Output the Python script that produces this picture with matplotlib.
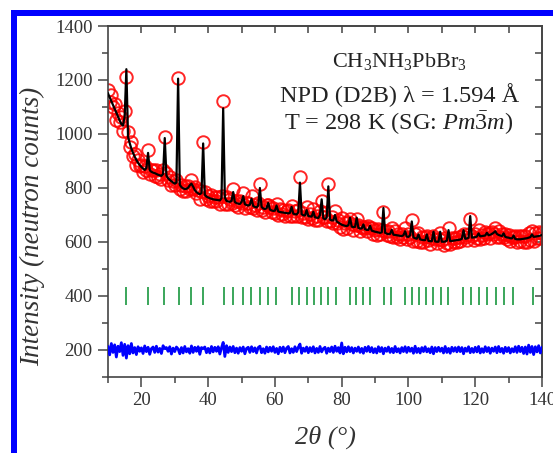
import numpy as np
import matplotlib.pyplot as plt
from matplotlib.patches import Rectangle

plt.rcParams['font.family'] = 'Liberation Serif'
plt.rcParams['mathtext.fontset'] = 'custom'
plt.rcParams['mathtext.rm'] = 'Liberation Serif'
plt.rcParams['mathtext.it'] = 'Liberation Serif:italic'

# scan: 2theta from 10 to 140 deg, step 0.5
two_theta = np.arange(10.0, 140.25, 0.5)

# calculated profile (neutron counts), one row per 5 deg
y_calc = np.array([
    1150, 1136, 1122, 1108, 1093, 1079, 1064, 1050, 1037, 1031,
    1065, 1240, 990, 966, 946, 930, 916, 904, 893, 885,
    878, 872, 867, 874, 930, 866, 860, 857, 855, 852,
    849, 847, 845, 852, 985, 846, 836, 830, 825, 820,
    816, 820, 1205, 812, 803, 799, 796, 797, 801, 810,
    816, 805, 792, 785, 780, 777, 781, 965, 775, 768,
    765, 762, 760, 758, 757, 756, 755, 754, 762, 1095,
    765, 752, 750, 749, 752, 785, 748, 744, 742, 741,
    748, 770, 740, 737, 735, 738, 760, 733, 730, 728,
    735, 800, 730, 724, 722, 725, 745, 720, 717, 715,
    716, 735, 713, 711, 710, 709, 708, 707, 706, 708,
    730, 705, 703, 702, 710, 820, 703, 699, 698, 718,
    696, 695, 694, 712, 692, 690, 689, 700, 758, 688,
    684, 690, 806, 683, 680, 680, 700, 676, 672, 668,
    664, 662, 660, 659, 662, 690, 657, 655, 656, 690,
    652, 650, 650, 665, 647, 645, 645, 660, 642, 640,
    638, 637, 635, 634, 636, 726, 634, 631, 629, 630,
    645, 627, 626, 625, 624, 623, 622, 625, 640, 620,
    619, 625, 676, 617, 614, 612, 628, 610, 608, 607,
    607, 628, 604, 603, 603, 638, 602, 601, 601, 638,
    601, 601, 602, 605, 644, 603, 604, 605, 606, 607,
    608, 609, 612, 644, 612, 613, 616, 696, 616, 617,
    618, 620, 632, 621, 622, 623, 624, 634, 625, 627,
    630, 634, 640, 630, 626, 624, 622, 632, 619, 617,
    616, 614, 613, 624, 611, 610, 610, 610, 611, 612,
    613, 614, 616, 618, 628, 619, 620, 621, 622, 624,
    626,
])

# observed - calculated
residual = np.array([
    12, -18, 24, -9, 19, -26, 14, -6, 27, -20,
    21, -30, 16, -14, 24, -11, 9, -17, 12, -5,
    8, -13, 15, -6, 10, -16, 5, 11, -9, 14,
    -8, 6, -13, 16, 5, 9, -5, 12, -15, 7,
    -6, 11, 4, -14, 9, -11, 13, -7, 5, -12,
    15, -9, 10, -5, 12, -16, 9, 5, 11, -10,
    6, -11, 13, -7, 10, -5, 12, -15, 8, 28,
    -24, 16, -9, 11, -6, 13, -10, 7, -12, 9,
    -5, 11, -14, 6, 10, -9, 12, -6, 8, -11,
    9, 14, -10, 5, -12, 11, -7, 10, -5, 12,
    -9, 6, -14, 10, -6, 11, -10, 7, 13, -11,
    5, -9, 12, -6, 10, 22, -12, 7, -5, 11,
    -10, 9, -6, 12, -11, 6, -9, 13, -7, 5,
    10, -12, 7, -6, 11, -9, 14, -5, 9, -11,
    26, -14, 10, -7, 12, -6, 9, -11, 7, -5,
    11, -9, 6, -12, 10, -5, 13, -7, 9, -10,
    5, -11, 12, -6, 9, -14, 7, -5, 11, -9,
    6, -10, 13, -7, 5, -11, 9, -6, 12, -9,
    10, -5, 7, -12, 14, -9, 6, -11, 9, -6,
    12, -7, 5, -10, 11, -14, 9, -6, 10, -5,
    7, -11, 13, -9, 6, -12, 10, -5, 9, -7,
    11, -6, 9, -14, 7, -5, 12, -10, 6, -9,
    10, -7, 13, -11, 5, -9, 12, -6, 9, -12,
    7, -5, 11, -10, 13, -7, 6, -12, 10, -6,
    9, -11, 5, -7, 12, -9, 14, -6, 10, -13,
    11, -15, 18, -9, 13, -17, 12, -7, 16, -11,
    9,
])

y_obs = y_calc + residual

# Bragg reflection positions, Pm-3m
bragg_pos = [15.45, 21.92, 26.92, 31.19, 34.98, 38.44, 44.68, 47.56, 50.30,
             52.94, 55.49, 57.97, 60.38, 65.04, 67.31, 69.53, 71.72, 73.90,
             76.03, 78.15, 82.35, 84.43, 86.51, 88.59, 92.72, 94.80, 98.97,
             101.08, 103.20, 105.33, 107.49, 109.68, 111.88, 116.42, 118.72,
             121.08, 123.60, 126.10, 128.70, 131.40, 137.20]

diff_offset = 200
bragg_level = 400

fig = plt.figure(figsize=(5.53, 4.53), dpi=100)
fig.patch.set_facecolor('white')

# blue frame along the left and top edges
fig.add_artist(Rectangle((11 / 553, 0), 5.5 / 553, 443 / 453,
                         transform=fig.transFigure, color='#0000ff', lw=0))
fig.add_artist(Rectangle((11 / 553, 437 / 453), 542 / 553, 6 / 453,
                         transform=fig.transFigure, color='#0000ff', lw=0))

ax = fig.add_axes([0.1953, 0.1678, 0.7848, 0.7748])

ax.plot(two_theta, y_obs, 'o', mfc='none', mec='#ff0000', mew=1.4, ms=9,
        alpha=0.85, zorder=2)
ax.plot(two_theta, y_calc, color='black', lw=1.6, zorder=3)
ax.plot(two_theta, residual + diff_offset, color='#0000ff', lw=2.0, zorder=3)
ax.plot(bragg_pos, [bragg_level] * len(bragg_pos), '|', color='#3aa65a',
        ms=12.5, mew=1.4, zorder=3)

ax.set_xlim(10, 140)
ax.set_ylim(100, 1400)
ax.set_xticks(np.arange(20, 141, 20))
ax.set_xticks(np.arange(10, 141, 20), minor=True)
ax.set_yticks(np.arange(200, 1401, 200))
ax.set_yticks(np.arange(100, 1401, 200), minor=True)

edge = '#444444'
for sp in ax.spines.values():
    sp.set_color(edge)
    sp.set_linewidth(1.2)
ax.tick_params(which='major', direction='out', length=7, width=1.1,
               color=edge, labelsize=13.5, labelcolor='#333333', pad=4)
ax.tick_params(which='minor', direction='out', length=4, width=1.1, color=edge)

top = ax.secondary_xaxis('top')
top.set_xticks(np.arange(20, 131, 10))
top.tick_params(direction='in', length=5, width=1.1, color=edge, labeltop=False)
top.spines['top'].set_color(edge)
top.spines['top'].set_linewidth(1.2)
right = ax.secondary_yaxis('right')
right.set_yticks(np.arange(200, 1301, 100))
right.tick_params(direction='in', length=5, width=1.1, color=edge, labelright=False)
right.spines['right'].set_color(edge)
right.spines['right'].set_linewidth(1.2)

ax.set_xlabel('2θ (°)', fontsize=19, fontstyle='italic', color='#333333')
ax.xaxis.set_label_coords(0.5, -0.138)
ax.set_ylabel('Intensity (neutron counts)', fontsize=19.5, fontstyle='italic',
              color='#333333')
ax.yaxis.set_label_coords(-0.146, 0.43)

ax.text(0.671, 0.883, r'CH$_3$NH$_3$PbBr$_3$', transform=ax.transAxes,
        ha='center', va='baseline', fontsize=16, color='#222222')
ax.text(0.671, 0.783, 'NPD (D2B) λ = 1.594 Å', transform=ax.transAxes,
        ha='center', va='baseline', fontsize=17.5, color='#222222')
ax.text(0.671, 0.704, r'T = 298 K (SG: $Pm\bar{3}m$)', transform=ax.transAxes,
        ha='center', va='baseline', fontsize=17.5, color='#222222')

fig.savefig('out.png', dpi=100)
